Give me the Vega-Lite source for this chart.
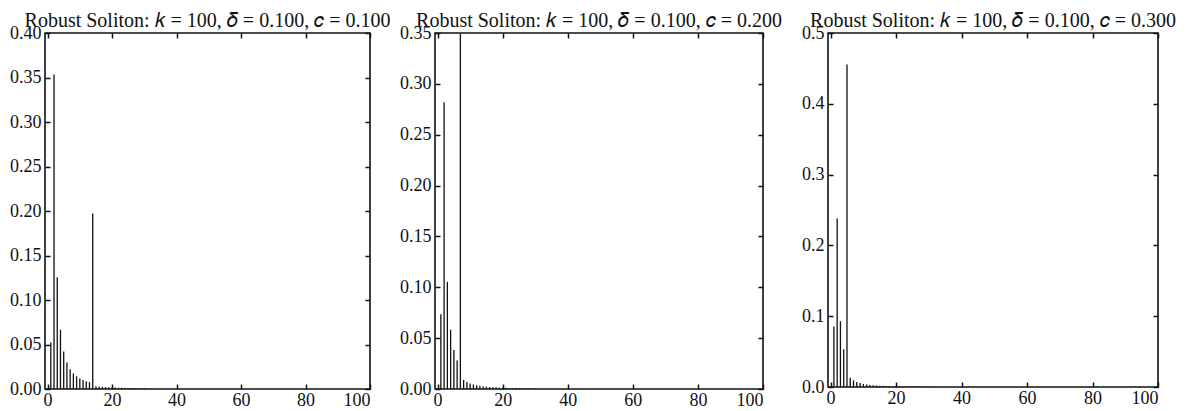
{
  "$schema": "https://vega.github.io/schema/vega-lite/v6.json",
  "padding": {"left": 8, "top": 10, "right": 0, "bottom": 0},
  "background": "white",
  "bounds": "flush",
  "spacing": 65,
  "datasets": {
    "c01": [
      {"d":1,"p":0.05229},{"d":2,"p":0.35348},{"d":3,"p":0.12544},{"d":4,"p":0.06653},{"d":5,"p":0.04220},
      {"d":6,"p":0.02966},{"d":7,"p":0.02227},{"d":8,"p":0.01752},{"d":9,"p":0.01426},{"d":10,"p":0.01192},
      {"d":11,"p":0.01016},{"d":12,"p":0.00882},{"d":13,"p":0.00775},{"d":14,"p":0.19710},{"d":15,"p":0.003149},
      {"d":16,"p":0.002755},{"d":17,"p":0.002431},{"d":18,"p":0.002161},{"d":19,"p":0.001934},{"d":20,"p":0.001740},
      {"d":21,"p":0.001574},{"d":22,"p":0.001431},{"d":23,"p":0.001307},{"d":24,"p":0.001198},{"d":25,"p":0.001102},
      {"d":26,"p":0.001017},{"d":27,"p":0.000942},{"d":28,"p":0.000875},{"d":29,"p":0.000814},{"d":30,"p":0.000760}
    ],
    "c02": [
      {"d":1,"p":0.07337},{"d":2,"p":0.28181},{"d":3,"p":0.10534},{"d":4,"p":0.05837},{"d":5,"p":0.03844},
      {"d":6,"p":0.02791},{"d":7,"p":0.34897},{"d":8,"p":0.008843},{"d":9,"p":0.006878},{"d":10,"p":0.005502},
      {"d":11,"p":0.004502},{"d":12,"p":0.003752},{"d":13,"p":0.003174},{"d":14,"p":0.002721},{"d":15,"p":0.002358},
      {"d":16,"p":0.002063},{"d":17,"p":0.001821},{"d":18,"p":0.001618},{"d":19,"p":0.001448},{"d":20,"p":0.001303},
      {"d":21,"p":0.001179},{"d":22,"p":0.001072},{"d":23,"p":0.000979},{"d":24,"p":0.000897},{"d":25,"p":0.000825},
      {"d":26,"p":0.000762},{"d":27,"p":0.000705},{"d":28,"p":0.000655},{"d":29,"p":0.000610},{"d":30,"p":0.000569}
    ],
    "c03": [
      {"d":1,"p":0.08562},{"d":2,"p":0.23792},{"d":3,"p":0.09292},{"d":4,"p":0.05327},{"d":5,"p":0.45538},
      {"d":6,"p":0.013138},{"d":7,"p":0.009385},{"d":8,"p":0.007038},{"d":9,"p":0.005474},{"d":10,"p":0.004380},
      {"d":11,"p":0.003583},{"d":12,"p":0.002986},{"d":13,"p":0.002527},{"d":14,"p":0.002166},{"d":15,"p":0.001877},
      {"d":16,"p":0.001642},{"d":17,"p":0.001449},{"d":18,"p":0.001288},{"d":19,"p":0.001153},{"d":20,"p":0.001037},
      {"d":21,"p":0.000938},{"d":22,"p":0.000853},{"d":23,"p":0.000779},{"d":24,"p":0.000714},{"d":25,"p":0.000657},
      {"d":26,"p":0.000606},{"d":27,"p":0.000561},{"d":28,"p":0.000521},{"d":29,"p":0.000485},{"d":30,"p":0.000453}
    ]
  },
  "hconcat": [
    {
      "width": 325, "height": 356,
      "data": {"name": "c01"},
      "title": {"text": "Robust Soliton: 𝑘 = 100, 𝛿 = 0.100, 𝑐 = 0.100"},
      "layer": [
        {
          "mark": {"type": "rule", "color": "#111", "strokeWidth": 1.3},
          "encoding": {
            "x": {"field": "d", "type": "quantitative", "scale": {"domain": [-0.8, 100], "nice": false, "zero": false},
                  "axis": {"orient": "bottom", "values": [0,20,40,60,80,100], "title": null}},
            "y": {"field": "p", "type": "quantitative", "scale": {"domain": [0, 0.4], "nice": false},
                  "axis": {"orient": "left", "values": [0,0.05,0.1,0.15,0.2,0.25,0.3,0.35,0.4], "format": ".2f", "title": null}},
            "y2": {"datum": 0}
          }
        },
        {
          "mark": {"type": "point", "opacity": 0},
          "encoding": {
            "x": {"field": "d", "type": "quantitative", "scale": {"domain": [-0.8, 100], "nice": false, "zero": false},
                  "axis": {"orient": "top", "values": [0,20,40,60,80,100], "labels": false, "title": null}},
            "y": {"field": "p", "type": "quantitative", "scale": {"domain": [0, 0.4], "nice": false},
                  "axis": {"orient": "right", "values": [0,0.05,0.1,0.15,0.2,0.25,0.3,0.35,0.4], "labels": false, "title": null}}
          }
        }
      ],
      "resolve": {"axis": {"x": "independent", "y": "independent"}}
    },
    {
      "width": 328, "height": 356,
      "data": {"name": "c02"},
      "title": {"text": "Robust Soliton: 𝑘 = 100, 𝛿 = 0.100, 𝑐 = 0.200"},
      "layer": [
        {
          "mark": {"type": "rule", "color": "#111", "strokeWidth": 1.3},
          "encoding": {
            "x": {"field": "d", "type": "quantitative", "scale": {"domain": [-0.8, 100], "nice": false, "zero": false},
                  "axis": {"orient": "bottom", "values": [0,20,40,60,80,100], "title": null}},
            "y": {"field": "p", "type": "quantitative", "scale": {"domain": [0, 0.35], "nice": false},
                  "axis": {"orient": "left", "values": [0,0.05,0.1,0.15,0.2,0.25,0.3,0.35], "format": ".2f", "title": null}},
            "y2": {"datum": 0}
          }
        },
        {
          "mark": {"type": "point", "opacity": 0},
          "encoding": {
            "x": {"field": "d", "type": "quantitative", "scale": {"domain": [-0.8, 100], "nice": false, "zero": false},
                  "axis": {"orient": "top", "values": [0,20,40,60,80,100], "labels": false, "title": null}},
            "y": {"field": "p", "type": "quantitative", "scale": {"domain": [0, 0.35], "nice": false},
                  "axis": {"orient": "right", "values": [0,0.05,0.1,0.15,0.2,0.25,0.3,0.35], "labels": false, "title": null}}
          }
        }
      ],
      "resolve": {"axis": {"x": "independent", "y": "independent"}}
    },
    {
      "width": 330, "height": 354,
      "data": {"name": "c03"},
      "title": {"text": "Robust Soliton: 𝑘 = 100, 𝛿 = 0.100, 𝑐 = 0.300"},
      "layer": [
        {
          "mark": {"type": "rule", "color": "#111", "strokeWidth": 1.3},
          "encoding": {
            "x": {"field": "d", "type": "quantitative", "scale": {"domain": [-0.8, 100], "nice": false, "zero": false},
                  "axis": {"orient": "bottom", "values": [0,20,40,60,80,100], "title": null}},
            "y": {"field": "p", "type": "quantitative", "scale": {"domain": [0, 0.5], "nice": false},
                  "axis": {"orient": "left", "values": [0,0.1,0.2,0.3,0.4,0.5], "format": ".1f", "title": null}},
            "y2": {"datum": 0}
          }
        },
        {
          "mark": {"type": "point", "opacity": 0},
          "encoding": {
            "x": {"field": "d", "type": "quantitative", "scale": {"domain": [-0.8, 100], "nice": false, "zero": false},
                  "axis": {"orient": "top", "values": [0,20,40,60,80,100], "labels": false, "title": null}},
            "y": {"field": "p", "type": "quantitative", "scale": {"domain": [0, 0.5], "nice": false},
                  "axis": {"orient": "right", "values": [0,0.1,0.2,0.3,0.4,0.5], "labels": false, "title": null}}
          }
        }
      ],
      "resolve": {"axis": {"x": "independent", "y": "independent"}}
    }
  ],
  "config": {
    "view": {"stroke": "#111", "strokeWidth": 1.6},
    "axis": {
      "grid": false,
      "domain": false,
      "ticks": true,
      "tickSize": -5,
      "tickColor": "#111",
      "tickWidth": 1.5,
      "labelFont": "Liberation Serif",
      "labelFontSize": 18,
      "labelColor": "#111",
      "labelPadding": 9
    },
    "axisX": {"labelPadding": 7},
    "title": {
      "font": "Liberation Serif",
      "fontSize": 20,
      "fontWeight": "normal",
      "color": "#111",
      "anchor": "middle",
      "offset": -7
    }
  }
}
